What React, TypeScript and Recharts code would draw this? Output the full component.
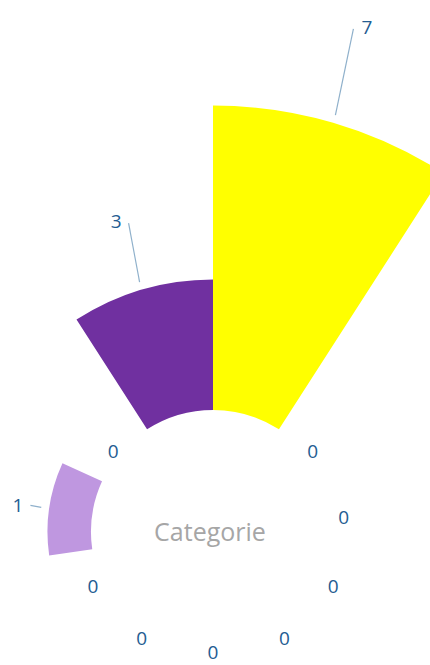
import { PieChart, Pie, Cell, Label } from 'recharts'

// categories run clockwise, starting at 12 o'clock
const CATEGORIES = [
  'Categorie 1', 'Categorie 2', 'Categorie 3', 'Categorie 4', 'Categorie 5', 'Categorie 6',
  'Categorie 7', 'Categorie 8', 'Categorie 9', 'Categorie 10', 'Categorie 11',
]
const VALUES = [7, 0, 0, 0, 0, 0, 0, 0, 1, 0, 3]
const COLORS = [
  '#FFFF00', '#4472C4', '#ED7D31', '#A5A5A5', '#FFC000', '#5B9BD5',
  '#70AD47', '#264478', '#BF97E0', '#636363', '#7030A0',
]
const CENTER_TITLE = 'Categorie'

/* layout */
const W = 430
const H = 665
const CX = 213
const CY = 532
const INNER = 122
const UNIT = 43.5 // px per unit of value
// leader lines: length and direction (deg clockwise from 12 o'clock), by slice index
const LEADERS: Record<number, { len: number; dir: number }> = {
  0: { len: 88, dir: 11.8 },
  8: { len: 11, dir: -80 },
  10: { len: 60, dir: -10.6 },
}
const LABEL_COLOR = '#245C92'
const FONT = '"Open Sans", "Noto Sans", sans-serif'

const radiusFor = (v: number) => INNER + v * UNIT

// every slice gets the same angle, radius carries the value
const rows = CATEGORIES.map((name, i) => ({ name, value: VALUES[i], share: 1 }))

const textStyle = { fontSize: 19, fill: LABEL_COLOR, fontFamily: FONT }

function renderLabel(props: any) {
  const { cx, cy, midAngle, index } = props
  const value = VALUES[index]
  const rad = (-midAngle * Math.PI) / 180
  const cos = Math.cos(rad)
  const sin = Math.sin(rad)

  if (value === 0) {
    // zero slices: label just outside the hole, squeezed a bit at the bottom edge
    const x = cx + (INNER + 10) * cos
    const y = Math.min(cy + 3 + (INNER + 7) * sin - 7 * Math.max(0, sin), H - 13)
    return (
      <text
        key={`l-${index}`}
        x={x}
        y={y}
        textAnchor="middle"
        dominantBaseline="central"
        style={textStyle}
      >
        {value}
      </text>
    )
  }

  const r0 = radiusFor(value) + 8
  const x0 = cx + r0 * cos
  const y0 = cy + r0 * sin
  const lead = LEADERS[index] ?? { len: 20, dir: 90 - midAngle }
  const d = (lead.dir * Math.PI) / 180
  const x1 = x0 + lead.len * Math.sin(d)
  const y1 = y0 - lead.len * Math.cos(d)
  const right = cos >= 0
  return (
    <g key={`l-${index}`}>
      <line x1={x0} y1={y0} x2={x1} y2={y1} stroke="#8FB0CB" strokeWidth={1.2} />
      <text
        x={x1 + (right ? 8 : -7)}
        y={y1 + (sin < -0.5 ? -2 : 0)}
        textAnchor={right ? 'start' : 'end'}
        dominantBaseline="central"
        style={textStyle}
      >
        {value}
      </text>
    </g>
  )
}

export default function App() {
  return (
    <div style={{ position: 'absolute', left: 0, top: 0, width: W, height: H, background: '#fff' }}>
      <PieChart width={W} height={H} margin={{ top: 0, right: 0, bottom: 0, left: 0 }}>
        {rows.map((row, i) =>
          row.value > 0 ? (
            <Pie
              key={row.name}
              data={rows}
              dataKey="share"
              nameKey="name"
              cx={CX}
              cy={CY}
              innerRadius={INNER}
              outerRadius={radiusFor(row.value)}
              startAngle={90}
              endAngle={-270}
              stroke="none"
              isAnimationActive={false}
            >
              {rows.map((r, j) => (
                <Cell key={r.name} fill={j === i ? COLORS[i] : 'transparent'} stroke="none" />
              ))}
            </Pie>
          ) : null
        )}

        {/* labels + centre title */}
        <Pie
          data={rows}
          dataKey="share"
          nameKey="name"
          cx={CX}
          cy={CY}
          innerRadius={INNER - 1}
          outerRadius={INNER}
          startAngle={90}
          endAngle={-270}
          fill="transparent"
          stroke="none"
          label={renderLabel}
          labelLine={false}
          isAnimationActive={false}
        >
          <Label
            value={CENTER_TITLE}
            position="center"
            viewBox={{ cx: CX - 3, cy: CY, innerRadius: 0, outerRadius: INNER, startAngle: 0, endAngle: 360 }}
            fill="#A6A6A6"
            fontSize={25}
            fontFamily={FONT}
          />
        </Pie>
      </PieChart>
    </div>
  )
}
